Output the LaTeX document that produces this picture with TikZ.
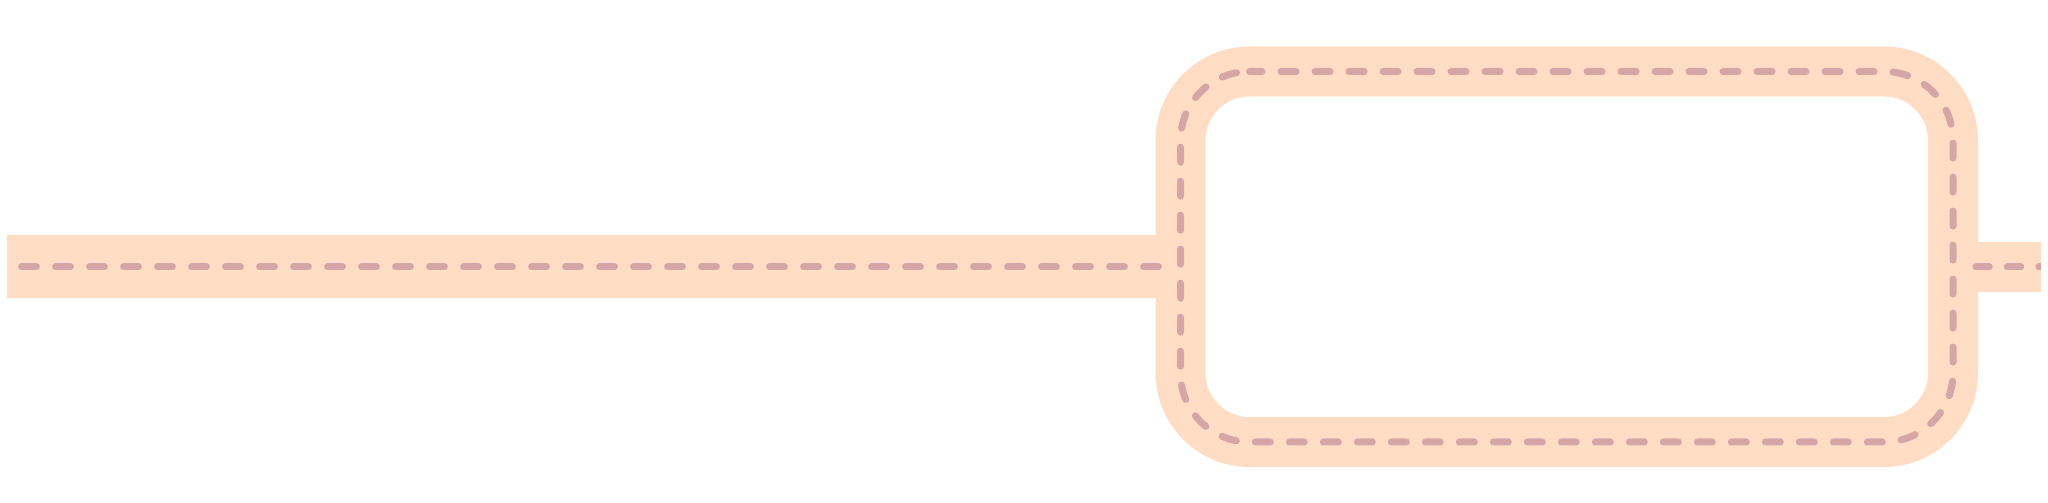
\documentclass[tikz,border=0pt]{standalone}
\begin{document}
\begin{tikzpicture}[x=1pt,y=1pt,
  bandline/.style={draw=peach,line width=50pt},
  centerdash/.style={draw=rose,line width=7pt,line cap=round,dash pattern=on 15pt off 19pt}]
\definecolor{peach}{HTML}{FFDDC5}
\definecolor{rose}{HTML}{D4A6A5}
\useasboundingbox (0,0) rectangle (2048,503);
% left road
\coordinate (lA) at (7,205);
\coordinate (lB) at (1156,268);
\fill[peach] (lA) rectangle (lB);
% right stub
\coordinate (sA) at (1960,211);
\coordinate (sB) at (2041,261);
\fill[peach] (sA) rectangle (sB);
% loop (centre line)
\coordinate (t0) at (1249.5,431.5);
\coordinate (t1) at (1884,431.5);
\coordinate (r1) at (1953,130);
\coordinate (b1) at (1249.5,61);
\coordinate (l1) at (1180.5,362.5);
\draw[bandline] (t0) -- (t1) arc[start angle=90,end angle=0,radius=69]
  -- (r1) arc[start angle=0,end angle=-90,radius=69]
  -- (b1) arc[start angle=270,end angle=180,radius=69]
  -- (l1) arc[start angle=180,end angle=90,radius=69] -- cycle;
% centre dashes
\coordinate (d1) at (21.5,236);
\coordinate (d2) at (1160,236);
\draw[centerdash] (d1) -- (d2);
\coordinate (e1) at (1975.8,236);
\coordinate (e2) at (2060,236);
\begin{scope}
\clip (1962,211) rectangle (sB);
\draw[centerdash,dash pattern=on 13.5pt off 18pt] (e1) -- (e2);
\end{scope}
\draw[centerdash,dash phase=2.5pt] (t0) -- (t1) arc[start angle=90,end angle=0,radius=69]
  -- (r1) arc[start angle=0,end angle=-90,radius=69]
  -- (b1) arc[start angle=270,end angle=180,radius=69]
  -- (l1) arc[start angle=180,end angle=90,radius=69];
\end{tikzpicture}
\end{document}
